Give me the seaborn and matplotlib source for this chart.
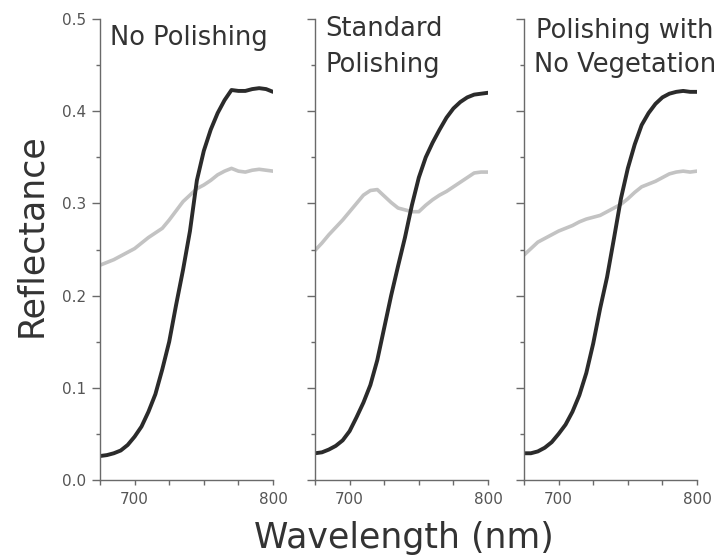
import numpy as np
import pandas as pd
import matplotlib
matplotlib.use("Agg")
import matplotlib.pyplot as plt
from matplotlib.ticker import MultipleLocator, FormatStrFormatter
import seaborn as sns

# wavelength grid (nm)
wavelength = [675, 680, 685, 690, 695, 700, 705, 710, 715, 720, 725, 730, 735,
              740, 745, 750, 755, 760, 765, 770, 775, 780, 785, 790, 795, 800]

titles = [["No Polishing"], ["Standard", "Polishing"], ["Polishing with", "No Vegetation"]]

# dark curves
dark_none = [.026, .027, .029, .032, .038, .047, .058, .074, .093, .120, .150, .190, .228,
             .270, .325, .357, .380, .398, .412, .423, .422, .422, .424, .425, .424, .421]
dark_std = [.029, .030, .033, .037, .043, .053, .068, .084, .103, .130, .165, .200, .232,
            .263, .298, .328, .350, .366, .380, .393, .403, .410, .415, .418, .419, .420]
dark_noveg = [.029, .029, .031, .035, .041, .050, .060, .074, .092, .116, .148, .186, .220,
              .262, .305, .338, .364, .385, .398, .408, .415, .419, .421, .422, .421, .421]

# light curves
light_none = [.233, .236, .239, .243, .247, .251, .257, .263, .268, .273, .282, .292, .302,
              .309, .316, .320, .325, .331, .335, .338, .335, .334, .336, .337, .336, .335]
light_std = [.249, .257, .266, .274, .282, .291, .300, .309, .314, .315, .308, .301, .295,
             .293, .291, .291, .298, .304, .309, .313, .318, .323, .328, .333, .334, .334]
light_noveg = [.244, .251, .258, .262, .266, .270, .273, .276, .280, .283, .285, .287, .291,
               .295, .299, .305, .312, .318, .321, .324, .328, .332, .334, .335, .334, .335]

dark = [dark_none, dark_std, dark_noveg]
light = [light_none, light_std, light_noveg]

sns.set_style("ticks")
plt.rcParams["font.family"] = ["DejaVu Sans"]

fig = plt.figure(figsize=(7.23, 5.56), dpi=100)
lefts = [100 / 723, 315 / 723, 524 / 723]
axes_color = "#6a6a6a"

# title placement (axes fraction): x start and baseline for each line
title_x = [[0.058], [0.058, 0.058], [0.069, 0.058]]
title_y = [[0.944], [0.963, 0.885], [0.959, 0.885]]

for i in range(3):
    ax = fig.add_axes([lefts[i], 0.1367, 0.2393, 0.8291])
    df = pd.DataFrame({"wl": wavelength, "dark": dark[i], "light": light[i]})
    sns.lineplot(data=df, x="wl", y="light", ax=ax, color="#c3c3c3", linewidth=2.6)
    sns.lineplot(data=df, x="wl", y="dark", ax=ax, color="#2b2b2b", linewidth=2.8)
    ax.set_xlim(675, 800)
    ax.set_ylim(0, 0.5)
    ax.xaxis.set_minor_locator(MultipleLocator(25))
    ax.yaxis.set_major_locator(MultipleLocator(0.1))
    ax.yaxis.set_minor_locator(MultipleLocator(0.05))
    ax.set_xticks([700, 800])
    ax.tick_params(axis="y", which="major", direction="out", length=6, width=1, pad=4,
                   color=axes_color, labelcolor="#555555", labelsize=11)
    ax.tick_params(axis="x", which="major", direction="out", length=3.5, width=1, pad=5,
                   color=axes_color, labelcolor="#555555", labelsize=11)
    ax.tick_params(axis="y", which="minor", direction="out", length=3, width=1,
                   color=axes_color)
    ax.tick_params(axis="x", which="minor", direction="out", length=3.5, width=1,
                   color=axes_color)
    if i == 0:
        ax.yaxis.set_major_formatter(FormatStrFormatter("%.1f"))
    else:
        ax.set_yticklabels([])
    ax.set_xlabel("")
    ax.set_ylabel("")
    for s in ["top", "right"]:
        ax.spines[s].set_visible(False)
    for s in ["left", "bottom"]:
        ax.spines[s].set_color(axes_color)
        ax.spines[s].set_linewidth(1)
    ax.patch.set_alpha(0)
    for line, tx, ty in zip(titles[i], title_x[i], title_y[i]):
        ax.text(tx, ty, line, transform=ax.transAxes, ha="left", va="baseline",
                fontsize=18.5, color="#333333")

fig.text(0.043, 0.577, "Reflectance", rotation=90, ha="center", va="center",
         fontsize=25, color="#333333")
fig.text(0.558, 0.032, "Wavelength (nm)", ha="center", va="center",
         fontsize=25, color="#333333")

fig.savefig("out.png", dpi=100)
